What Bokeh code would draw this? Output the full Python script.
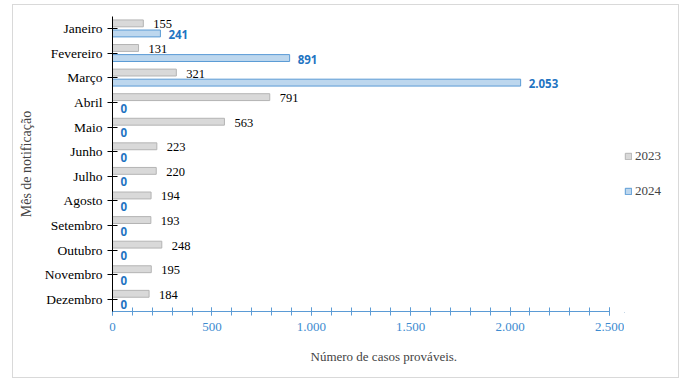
from bokeh.plotting import figure
from bokeh.layouts import row
from bokeh.models import (ColumnDataSource, FactorRange, SingleIntervalTicker,
                          CustomJSTickFormatter, Legend, LegendItem, Title)
from bokeh.transform import dodge
from bokeh.core.properties import value
from bokeh.embed import file_html
from bokeh.resources import INLINE

months = ["Janeiro", "Fevereiro", "Março", "Abril", "Maio", "Junho",
          "Julho", "Agosto", "Setembro", "Outubro", "Novembro", "Dezembro"]
casos_2023 = [155, 131, 321, 791, 563, 223, 220, 194, 193, 248, 195, 184]
casos_2024 = [241, 891, 2053, 0, 0, 0, 0, 0, 0, 0, 0, 0]
series_names = ["2023", "2024"]


def fmt_br(v):
    return f"{v:,}".replace(",", ".")


src = ColumnDataSource(dict(
    mes=months,
    c23=casos_2023,
    c24=casos_2024,
    t23=[fmt_br(v) for v in casos_2023],
    t24=[fmt_br(v) for v in casos_2024],
))

SERIF = "'Liberation Serif', 'Times New Roman', serif"
BLUE_TXT = "#1f74c2"
AXIS_BLUE = "#5b9bd5"
GRAY_FILL, GRAY_LINE = "#d9d9d9", "#b4b4b4"
BLUE_FILL, BLUE_LINE = "#bdd7ee", "#5b9bd5"

p = figure(frame_width=497, frame_height=295,
           output_backend="svg", toolbar_location=None,
           x_range=(0, 2500), y_range=FactorRange(*reversed(months), range_padding=0),
           min_border_left=99, min_border_right=15, min_border_top=11,
           min_border_bottom=60)
p.outline_line_color = None
p.xgrid.grid_line_color = None
p.ygrid.grid_line_color = None
p.background_fill_color = "white"
p.border_fill_color = "white"

p.hbar(y=dodge("mes", 0.22, range=p.y_range), right="c23", left=0, height=0.28,
       source=src, fill_color=GRAY_FILL, line_color=GRAY_LINE, line_width=1)
p.hbar(y=dodge("mes", -0.19, range=p.y_range), right="c24", left=0, height=0.28,
       source=src, fill_color=BLUE_FILL, line_color=BLUE_LINE, line_width=1)

p.text(x="c23", y=dodge("mes", 0.22, range=p.y_range), text="t23", source=src,
       x_offset=10, y_offset=1, text_baseline="middle", text_align="left",
       text_font=value(SERIF), text_font_size="12.5px", text_color="#000000")
p.text(x="c24", y=dodge("mes", -0.19, range=p.y_range), text="t24", source=src,
       x_offset=8, y_offset=1, text_baseline="middle", text_align="left",
       text_font=value("Open Sans"), text_font_style="bold",
       text_font_size="11.5px", text_color=BLUE_TXT)

# x axis: blue line, crossing ticks every 100, labels every 500
xa = p.xaxis[0]
xa.ticker = SingleIntervalTicker(interval=500, num_minor_ticks=5)
xa.formatter = CustomJSTickFormatter(
    code="return tick.toString().replace(/\\B(?=(\\d{3})+(?!\\d))/g, '.')")
xa.axis_line_color = AXIS_BLUE
xa.major_tick_line_color = AXIS_BLUE
xa.minor_tick_line_color = AXIS_BLUE
xa.major_tick_in = 4
xa.major_tick_out = 4
xa.minor_tick_in = 4
xa.minor_tick_out = 4
xa.major_label_text_color = "#3d8bd0"
xa.major_label_text_font = SERIF
xa.major_label_text_font_style = "normal"
xa.major_label_text_font_size = "13px"
xa.major_label_standoff = 7

# y axis: month names
ya = p.yaxis[0]
ya.axis_line_color = "#000000"
ya.major_tick_line_color = "#000000"
ya.major_tick_in = 5
ya.major_tick_out = 5
ya.major_label_standoff = 5
ya.major_label_text_font = SERIF
ya.major_label_text_font_style = "normal"
ya.major_label_text_font_size = "13.5px"
ya.major_label_text_color = "#000000"
ya.axis_label = "Mês de notificação"
ya.axis_label_text_font = SERIF
ya.axis_label_text_font_style = "normal"
ya.axis_label_text_font_size = "14px"
ya.axis_label_standoff = 8

p.add_layout(Title(text="Número de casos prováveis.", align="left", offset=198,
                   text_font=SERIF, text_font_style="normal",
                   text_font_size="13px", standoff=26), "below")

# legend panel on the right; its swatches reuse the bar styles
q = figure(width=54, height=372, x_range=(0, 1), y_range=(0, 1),
           x_axis_type=None, y_axis_type=None, min_border=0,
           output_backend="svg", toolbar_location=None)
q.outline_line_color = None
q.background_fill_color = "white"
q.border_fill_color = "white"
k23 = q.hbar(y=[-10], left=[-10], right=[-9], height=0.5,
             fill_color=GRAY_FILL, line_color=GRAY_LINE)
k24 = q.hbar(y=[-10], left=[-10], right=[-9], height=0.5,
             fill_color=BLUE_FILL, line_color=BLUE_LINE)
legend = Legend(items=[LegendItem(label=series_names[0], renderers=[k23]),
                       LegendItem(label=series_names[1], renderers=[k24])],
                location=(0, 111), orientation="vertical",
                glyph_width=8, glyph_height=8, label_standoff=3,
                label_height=20, spacing=15, padding=0, margin=0,
                border_line_alpha=0, background_fill_alpha=0,
                label_text_font=SERIF, label_text_font_size="13px")
q.add_layout(legend)

layout = row(p, q)
layout.margin = (4, 0, 0, 12)
layout.styles = {"border": "1px solid #d9d9d9"}

open("out.html", "w").write(file_html(layout, INLINE))
